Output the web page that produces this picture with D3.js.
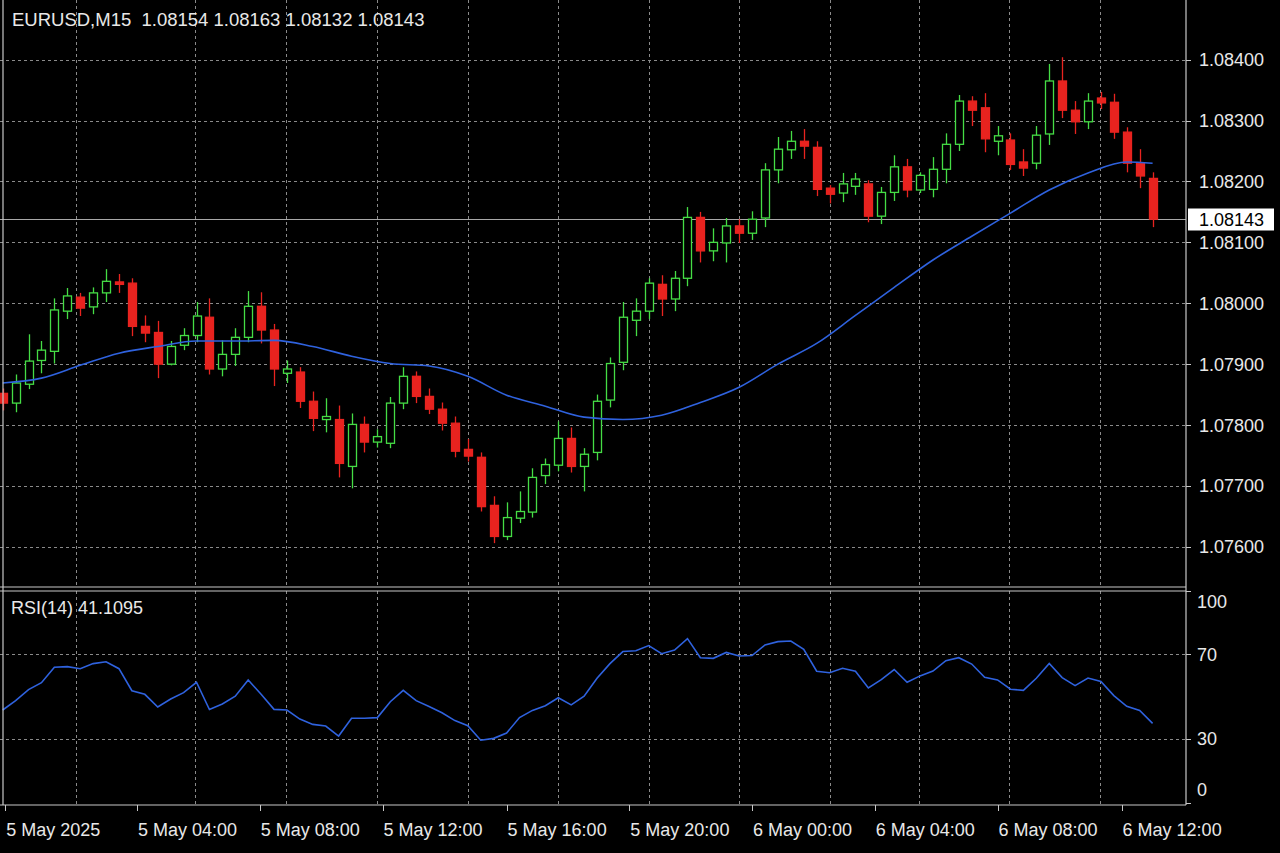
<!DOCTYPE html>
<html>
<head>
<meta charset="utf-8">
<script src="https://cdn.jsdelivr.net/npm/d3@7"></script>
<style>
  body { margin: 0; background: #000; }
  svg { display: block; font-family: "Liberation Sans", Arial, sans-serif; }
</style>
</head>
<body>
<div id="chart"></div>
<script>

// header texts
var symbolTitle = 'EURUSD,M15  1.08154 1.08163 1.08132 1.08143';
var rsiTitle = 'RSI(14) 41.1095';
var lastPriceText = '1.08143';

// candles, one entry per M15 bar
var opens = [1.07852,1.07836,1.07867,1.07906,1.07921,1.07987,1.08010,1.07994,1.08017,1.08035,
  1.08033,1.07962,1.07952,1.07900,1.07931,1.07947,1.07977,1.07892,1.07916,1.07944,
  1.07995,1.07956,1.07885,1.07887,1.07839,1.07809,1.07809,1.07732,1.07801,1.07772,
  1.07770,1.07836,1.07880,1.07847,1.07826,1.07803,1.07760,1.07747,1.07668,1.07617,
  1.07647,1.07657,1.07717,1.07734,1.07778,1.07732,1.07755,1.07841,1.07903,1.07972,
  1.07987,1.08031,1.08007,1.08041,1.08141,1.08086,1.08099,1.08127,1.08115,1.08140,
  1.08219,1.08252,1.08266,1.08256,1.08189,1.08181,1.08192,1.08196,1.08143,1.08182,
  1.08224,1.08186,1.08187,1.08220,1.08261,1.08332,1.08321,1.08266,1.08268,1.08232,
  1.08230,1.08278,1.08365,1.08317,1.08298,1.08337,1.08330,1.08281,1.08230,1.08205];
var highs = [1.07860,1.07883,1.07949,1.07938,1.08008,1.08025,1.08017,1.08026,1.08056,1.08048,
  1.08041,1.07980,1.07971,1.07938,1.07959,1.08002,1.08008,1.07939,1.07959,1.08020,
  1.08018,1.07966,1.07906,1.07895,1.07855,1.07844,1.07832,1.07819,1.07814,1.07793,
  1.07846,1.07895,1.07888,1.07860,1.07837,1.07814,1.07777,1.07755,1.07683,1.07673,
  1.07691,1.07729,1.07745,1.07806,1.07796,1.07762,1.07850,1.07911,1.08002,1.08008,
  1.08041,1.08046,1.08053,1.08158,1.08150,1.08123,1.08140,1.08138,1.08151,1.08230,
  1.08273,1.08283,1.08286,1.08266,1.08194,1.08214,1.08214,1.08202,1.08191,1.08243,
  1.08237,1.08215,1.08240,1.08279,1.08342,1.08340,1.08345,1.08291,1.08279,1.08253,
  1.08291,1.08393,1.08404,1.08332,1.08345,1.08347,1.08344,1.08289,1.08253,1.08215];
var lows = [1.07824,1.07821,1.07859,1.07885,1.07901,1.07974,1.07979,1.07982,1.08002,1.08017,
  1.07946,1.07936,1.07877,1.07898,1.07923,1.07936,1.07883,1.07880,1.07897,1.07936,
  1.07934,1.07864,1.07869,1.07828,1.07790,1.07788,1.07714,1.07696,1.07755,1.07763,
  1.07762,1.07826,1.07836,1.07818,1.07791,1.07747,1.07740,1.07658,1.07606,1.07611,
  1.07639,1.07648,1.07703,1.07724,1.07722,1.07691,1.07742,1.07829,1.07890,1.07946,
  1.07974,1.07979,1.07987,1.08028,1.08067,1.08069,1.08067,1.08099,1.08104,1.08125,
  1.08197,1.08237,1.08237,1.08176,1.08164,1.08166,1.08178,1.08133,1.08130,1.08168,
  1.08174,1.08181,1.08174,1.08197,1.08250,1.08291,1.08248,1.08243,1.08219,1.08209,
  1.08220,1.08260,1.08304,1.08278,1.08286,1.08319,1.08270,1.08215,1.08189,1.08125];
var closes = [1.07836,1.07869,1.07905,1.07923,1.07989,1.08012,1.07992,1.08017,1.08036,1.08031,
  1.07962,1.07951,1.07900,1.07929,1.07947,1.07979,1.07892,1.07916,1.07944,1.07995,
  1.07956,1.07892,1.07892,1.07839,1.07811,1.07814,1.07737,1.07801,1.07772,1.07781,
  1.07836,1.07880,1.07847,1.07826,1.07803,1.07757,1.07749,1.07666,1.07617,1.07648,
  1.07658,1.07714,1.07735,1.07778,1.07732,1.07752,1.07839,1.07901,1.07977,1.07987,
  1.08033,1.08007,1.08041,1.08141,1.08086,1.08100,1.08127,1.08115,1.08138,1.08219,
  1.08253,1.08266,1.08258,1.08187,1.08179,1.08196,1.08204,1.08143,1.08182,1.08224,
  1.08186,1.08210,1.08220,1.08261,1.08332,1.08317,1.08270,1.08275,1.08228,1.08222,
  1.08276,1.08365,1.08317,1.08298,1.08332,1.08329,1.08281,1.08230,1.08209,1.08138];

// moving average, read at every third bar
var maBars = [0,3,6,9,12,15,18,21,24,27,30,33,36,39,42,45,48,51,54,57,60,63,66,69,72,75,78,81,84,87,89];
var maValues = [1.07869,1.07877,1.07898,1.07918,1.07929,1.07938,1.07938,1.07939,1.07929,1.07913,
  1.07901,1.07897,1.07880,1.07849,1.07831,1.07813,1.07809,1.07816,1.07837,1.07862,
  1.07900,1.07934,1.07980,1.08026,1.08071,1.08110,1.08148,1.08186,1.08214,1.08232,1.08230];

// RSI(14), one per bar
var rsiValues = [43.7,48.1,53.3,56.6,63.9,64.2,63.2,65.6,66.5,63.2,
  52.8,51.1,45.1,48.9,51.9,56.8,43.9,46.5,50.2,57.9,
  51.1,44.0,43.7,39.4,36.9,36.1,31.4,39.8,39.8,40.1,
  47.6,53.0,48.1,45.3,42.4,38.7,36.3,29.4,30.3,32.8,
  40.1,43.5,45.7,49.5,46.1,50.2,58.7,65.6,71.3,71.7,
  74.1,70.3,72.0,77.4,68.4,68.1,70.9,69.2,69.4,74.4,
  76.0,76.3,72.4,62.0,61.3,63.4,62.0,54.1,58.0,62.8,
  56.8,59.8,62.1,67.0,68.4,65.4,59.1,57.9,53.5,53.0,
  58.7,65.7,59.0,55.2,58.8,57.2,50.5,45.4,43.5,37.4];

// axes
var priceTicks = [1.076, 1.077, 1.078, 1.079, 1.080, 1.081, 1.082, 1.083, 1.084];
var rsiTicks = [0, 30, 70, 100];
var rsiLevels = [30, 70];
var timeLabels = ['5 May 2025', '5 May 04:00', '5 May 08:00', '5 May 12:00', '5 May 16:00',
  '5 May 20:00', '6 May 00:00', '6 May 04:00', '6 May 08:00', '6 May 12:00'];
var timeLabelBars = [0.2, 10.4, 19.9, 29.4, 39.0, 48.5, 58.0, 67.5, 77.0, 86.6];
var gridBars = [5.7, 14.9, 21.9, 29, 36, 43, 50, 57, 64, 70.9, 77.9, 84.9];

var width = 1280, height = 853;
var axisX = 1186, mainBottom = 587, rsiTop = 591, bottomY = 805;
var bullColor = '#45dd45', bearColor = '#e8231f', lineBlue = '#2f62de';
var gridColor = '#8a8a8a', textColor = '#e8e8e8', frameColor = '#c8c8c8';

var svg = d3.select('#chart').append('svg')
  .attr('width', width)
  .attr('height', height)
  .style('background', '#000');

var x = d3.scaleLinear().domain([0, closes.length - 1]).range([2.7, 1152.6]);
var y = d3.scaleLinear().domain([1.07534, 1.08498]).range([mainBottom, 0]);
var ry = d3.scaleLinear().domain([0, 100]).range([802.5, 590.8]);

// grid
var grid = svg.append('g')
  .attr('stroke', gridColor)
  .attr('stroke-width', 1)
  .attr('stroke-dasharray', '3,3');

grid.selectAll('.hgrid').data(priceTicks).enter().append('line')
  .attr('x1', 0).attr('x2', axisX)
  .attr('y1', function(d) { return Math.round(y(d)) + 0.5; })
  .attr('y2', function(d) { return Math.round(y(d)) + 0.5; });

grid.selectAll('.rgrid').data(rsiLevels).enter().append('line')
  .attr('x1', 0).attr('x2', axisX)
  .attr('y1', function(d) { return Math.round(ry(d)) + 0.5; })
  .attr('y2', function(d) { return Math.round(ry(d)) + 0.5; });

gridBars.forEach(function(b) {
  var gx = Math.round(x(b)) + 0.5;
  grid.append('line').attr('x1', gx).attr('x2', gx).attr('y1', 0).attr('y2', mainBottom);
  grid.append('line').attr('x1', gx).attr('x2', gx).attr('y1', rsiTop).attr('y2', bottomY);
});

// current price line
var lastY = Math.round(y(closes[closes.length - 1])) + 0.5;
svg.append('line')
  .attr('x1', 0).attr('x2', axisX)
  .attr('y1', lastY).attr('y2', lastY)
  .attr('stroke', '#a8a8a8').attr('stroke-width', 1);

// candles
var bars = d3.range(closes.length).map(function(i) {
  return { i: i, o: opens[i], h: highs[i], l: lows[i], c: closes[i] };
});

var candle = svg.append('g').selectAll('g').data(bars).enter().append('g');

candle.append('line')
  .attr('x1', function(d) { return Math.round(x(d.i)) + 0.5; })
  .attr('x2', function(d) { return Math.round(x(d.i)) + 0.5; })
  .attr('y1', function(d) { return y(d.h); })
  .attr('y2', function(d) { return y(d.l); })
  .attr('stroke', function(d) { return d.c >= d.o ? bullColor : bearColor; })
  .attr('stroke-width', 1.3);

candle.append('rect')
  .attr('x', function(d) { return Math.round(x(d.i)) - 3.5; })
  .attr('width', 8)
  .attr('y', function(d) { return y(Math.max(d.o, d.c)); })
  .attr('height', function(d) { return Math.max(1, Math.abs(y(d.o) - y(d.c))); })
  .attr('fill', function(d) { return d.c >= d.o ? '#000' : bearColor; })
  .attr('stroke', function(d) { return d.c >= d.o ? bullColor : bearColor; })
  .attr('stroke-width', 1.3);

// moving average
svg.append('path')
  .datum(maBars.map(function(b, k) { return [b, maValues[k]]; }))
  .attr('fill', 'none')
  .attr('stroke', lineBlue)
  .attr('stroke-width', 1.6)
  .attr('d', d3.line()
    .x(function(d) { return x(d[0]); })
    .y(function(d) { return y(d[1]); })
    .curve(d3.curveMonotoneX));

// RSI
svg.append('path')
  .datum(rsiValues)
  .attr('fill', 'none')
  .attr('stroke', lineBlue)
  .attr('stroke-width', 1.6)
  .attr('d', d3.line()
    .x(function(d, i) { return x(i); })
    .y(function(d) { return ry(d); }));

// frame
var frame = svg.append('g').attr('stroke', frameColor).attr('stroke-width', 1.2);
frame.append('line').attr('x1', 3).attr('x2', 3).attr('y1', 0).attr('y2', bottomY);
frame.append('line').attr('x1', axisX).attr('x2', axisX).attr('y1', 0).attr('y2', bottomY);
frame.append('line').attr('x1', 0).attr('x2', axisX).attr('y1', mainBottom).attr('y2', mainBottom);
frame.append('line').attr('x1', 0).attr('x2', axisX).attr('y1', rsiTop).attr('y2', rsiTop);
frame.append('line').attr('x1', 0).attr('x2', axisX).attr('y1', bottomY).attr('y2', bottomY);

// price axis
var yAxis = svg.append('g');
yAxis.selectAll('line').data(priceTicks).enter().append('line')
  .attr('x1', axisX).attr('x2', axisX + 5)
  .attr('y1', function(d) { return Math.round(y(d)) + 0.5; })
  .attr('y2', function(d) { return Math.round(y(d)) + 0.5; })
  .attr('stroke', frameColor);
yAxis.selectAll('text').data(priceTicks).enter().append('text')
  .attr('x', 1199)
  .attr('y', function(d) { return y(d) + 6.5; })
  .attr('fill', textColor)
  .style('font-size', '18px')
  .text(function(d) { return d3.format('.5f')(d); });

// current price box
svg.append('rect')
  .attr('x', axisX + 2).attr('y', lastY - 11)
  .attr('width', 86).attr('height', 22)
  .attr('fill', '#fff');
svg.append('text')
  .attr('x', 1199).attr('y', lastY + 6.5)
  .attr('fill', '#000')
  .style('font-size', '18px')
  .text(lastPriceText);

// RSI axis
var rAxis = svg.append('g');
rAxis.selectAll('line').data(rsiTicks).enter().append('line')
  .attr('x1', axisX).attr('x2', axisX + 5)
  .attr('y1', function(d) { return Math.round(ry(d)) + 0.5; })
  .attr('y2', function(d) { return Math.round(ry(d)) + 0.5; })
  .attr('stroke', frameColor);
rAxis.selectAll('text').data(rsiTicks).enter().append('text')
  .attr('x', 1197)
  .attr('y', function(d) { return Math.min(Math.max(ry(d), 601), 789) + 6.5; })
  .attr('fill', textColor)
  .style('font-size', '18px')
  .text(function(d) { return d; });

// time axis
var xAxis = svg.append('g');
xAxis.selectAll('line').data(timeLabelBars).enter().append('line')
  .attr('x1', function(d) { return Math.round(x(d)) + 0.5; })
  .attr('x2', function(d) { return Math.round(x(d)) + 0.5; })
  .attr('y1', bottomY).attr('y2', bottomY + 6)
  .attr('stroke', frameColor);
xAxis.selectAll('text').data(timeLabels).enter().append('text')
  .attr('x', function(d, i) { return x(timeLabelBars[i]) + 1; })
  .attr('y', 836)
  .attr('fill', textColor)
  .style('font-size', '18px')
  .text(function(d) { return d; });

// titles
svg.append('text')
  .attr('x', 12).attr('y', 26)
  .attr('fill', textColor)
  .style('font-size', '18.5px')
  .style('white-space', 'pre')
  .attr('xml:space', 'preserve')
  .text(symbolTitle);

svg.append('text')
  .attr('x', 11).attr('y', 614)
  .attr('fill', textColor)
  .style('font-size', '18px')
  .text(rsiTitle);

</script>
</body>
</html>
